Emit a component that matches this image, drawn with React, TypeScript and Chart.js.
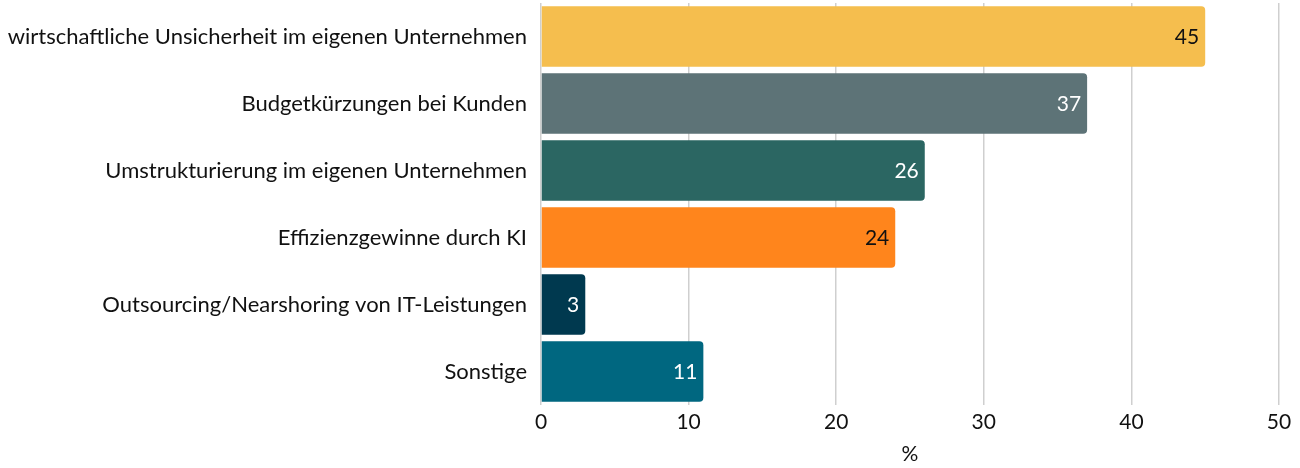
import React, { useEffect, useRef } from "react";
import { Chart, registerables } from "chart.js";

Chart.register(...registerables);

const categories = [
  "wirtschaftliche Unsicherheit im eigenen Unternehmen",
  "Budgetkürzungen bei Kunden",
  "Umstrukturierung im eigenen Unternehmen",
  "Effizienzgewinne durch KI",
  "Outsourcing/Nearshoring von IT-Leistungen",
  "Sonstige",
];
const values = [45, 37, 26, 24, 3, 11];
const barColors = ["#F5BE4E", "#5D7377", "#2B6662", "#FF851C", "#00394F", "#006780"];
const labelColors = ["#111111", "#ffffff", "#ffffff", "#111111", "#ffffff", "#ffffff"];
const xTicks = [0, 10, 20, 30, 40, 50];
const xTitle = "%";

const FONT = "Lato, 'Noto Sans', sans-serif";
const FS_CAT = 22;
const FS = 21;

const valueLabels = {
  id: "valueLabels",
  afterDatasetsDraw(chart: any) {
    const ctx = chart.ctx;
    const meta = chart.getDatasetMeta(0);
    ctx.save();
    ctx.font = `${FS}px ${FONT}`;
    ctx.textAlign = "right";
    ctx.textBaseline = "middle";
    meta.data.forEach((el: any, i: number) => {
      ctx.fillStyle = labelColors[i];
      ctx.fillText(String(values[i]), el.x - 6, el.y + 1);
    });
    ctx.restore();
  },
};

export default function App() {
  const ref = useRef<HTMLCanvasElement>(null);
  useEffect(() => {
    document.body.style.margin = "0";
    const chart = new Chart(ref.current!, {
      type: "bar",
      data: {
        labels: categories,
        datasets: [
          {
            data: values,
            backgroundColor: barColors,
            borderRadius: 4,
            borderSkipped: "start",
            barPercentage: 0.9,
            categoryPercentage: 1,
          },
        ],
      },
      options: {
        indexAxis: "y",
        animation: false,
        responsive: false,
        maintainAspectRatio: false,
        layout: { padding: { top: 3, right: 21, left: 0, bottom: 0 } },
        plugins: { legend: { display: false }, tooltip: { enabled: false } },
        scales: {
          x: {
            min: 0,
            max: 50,
            afterBuildTicks: (s: any) => {
              s.ticks = xTicks.map((v) => ({ value: v }));
            },
            afterFit: (s: any) => {
              s.height = 63;
              s.paddingLeft = 0;
              s.paddingRight = 0;
            },
            ticks: { color: "#111", font: { size: FS, family: FONT }, padding: 5 },
            grid: { color: "#cfcfcf", lineWidth: 1.5, drawTicks: false },
            border: { display: false },
            title: {
              display: true,
              text: xTitle,
              color: "#111",
              font: { size: FS, family: FONT },
              padding: { top: 4, bottom: 1 },
            },
          },
          y: {
            afterFit: (s: any) => {
              s.width = 541;
              s.paddingTop = 0;
              s.paddingBottom = 0;
            },
            ticks: { color: "#111", font: { size: FS_CAT, family: FONT }, padding: 14 },
            grid: { display: false, drawTicks: false },
            border: { display: false },
          },
        },
      },
      plugins: [valueLabels],
    });
    return () => chart.destroy();
  }, []);
  return (
    <div style={{ width: 1300, height: 468 }}>
      <canvas ref={ref} width={1300} height={468} style={{ display: "block" }} />
    </div>
  );
}
